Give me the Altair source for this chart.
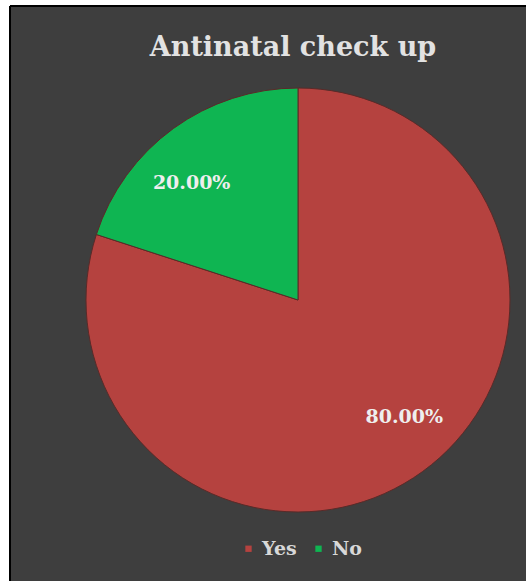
import altair as alt
import pandas as pd

categories = ["Yes", "No"]
values = [80, 20]
labels = ["80.00%", "20.00%"]
colors = ["#B5423F", "#0FB552"]

df = pd.DataFrame({"answer": categories, "value": values, "label": labels,
                   "order": [0, 1]})

base = alt.Chart(df).encode(
    order=alt.Order("order:Q"),
)

pie = base.mark_arc(outerRadius=212, stroke="#5a2a28", strokeWidth=1).encode(
    theta=alt.Theta("value:Q", stack=True),
    x=alt.value(288),
    y=alt.value(294),
    color=alt.Color(
        "answer:N",
        scale=alt.Scale(domain=categories, range=colors),
        legend=alt.Legend(
            title=None, orient="none", direction="horizontal",
            legendX=229, legendY=533,
            symbolType="square", symbolSize=40, symbolStrokeWidth=0,
            labelFont="DejaVu Serif", labelFontSize=19, labelColor="#d8d8d8",
            labelFontWeight="bold", columnPadding=12, symbolOffset=0,
        ),
    ),
)

text = base.mark_text(
    radius=158, font="DejaVu Serif", fontSize=19, fontWeight="bold",
    color="#eeeeee",
).encode(
    theta=alt.Theta("value:Q", stack=True,
                    scale=alt.Scale(range=[-0.11, 6.1732])),
    x=alt.value(288),
    y=alt.value(294),
    text="label:N",
)

left_edge = alt.Chart().mark_rule(color="black", strokeWidth=2).encode(
    x=alt.value(0), y=alt.value(0), y2=alt.value(575))
top_edge = alt.Chart().mark_rule(color="black", strokeWidth=2).encode(
    x=alt.value(0), x2=alt.value(516), y=alt.value(0))

chart = alt.layer(pie, text, left_edge, top_edge).resolve_scale(
    theta="independent").properties(
    width=516, height=575,
    padding={"left": 10, "top": 6, "right": 0, "bottom": 0},
    autosize=alt.AutoSizeParams(type="none"),
    background="white",
    title=alt.TitleParams(
        "Antinatal check up", font="DejaVu Serif", fontSize=27,
        fontWeight="bold", color="#e2e2e2", anchor="middle",
        baseline="alphabetic", offset=0, dx=25, dy=78,
    ),
).configure_view(fill="#3e3e3e", strokeWidth=0)

chart.save("out.html", embed_options={"renderer": "svg", "actions": False})
